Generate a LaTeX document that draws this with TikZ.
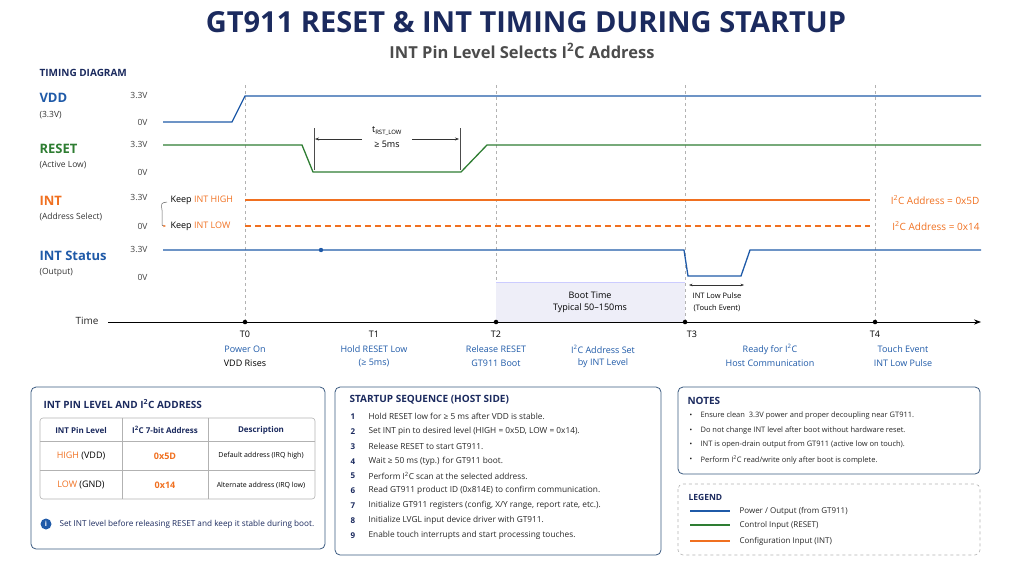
\documentclass[tikz,border=0pt]{standalone}
\usepackage{fontspec}
\setmainfont{Open Sans}
\usetikzlibrary{arrows.meta}
\definecolor{navy}{HTML}{1B2A5E}
\definecolor{sblue}{HTML}{1F5AA8}
\definecolor{sgreen}{HTML}{2E7D32}
\definecolor{sorange}{HTML}{F07020}
\definecolor{boxb}{HTML}{3A5A80}
\definecolor{lav}{HTML}{EEEEF8}
\begin{document}
\begin{tikzpicture}[x=1pt,y=-1pt,
  sig/.style={line width=1.3pt},
  vl/.style={font=\fontsize{8.5}{9}\selectfont,anchor=east,text=black!75},
  lbl/.style={font=\bfseries\fontsize{13}{14}\selectfont,anchor=west},
  sub/.style={font=\fontsize{8.5}{9}\selectfont,anchor=west,text=black!80},
  vd/.style={gray!60,dashed,line width=0.6pt},
  tl/.style={font=\fontsize{9}{10}\selectfont},
  tb/.style={tl,text=sblue},
  box/.style={draw=boxb,rounded corners=5pt,line width=0.8pt},
  bt/.style={font=\bfseries\fontsize{10}{11}\selectfont,text=navy,anchor=west},
  it/.style={font=\fontsize{8}{9}\selectfont,anchor=west,text=black!85},
  dotn/.style={circle,fill=black,inner sep=1.6pt}]
\useasboundingbox (0,0) rectangle (1024,576);
% titles
\node (title) at (526,22) {\bfseries\fontsize{29}{31}\selectfont\color{navy}GT911 RESET \& INT TIMING DURING STARTUP};
\node (subt) at (522,51) {\bfseries\fontsize{16.5}{18}\selectfont\color{black!70}INT Pin Level Selects I\textsuperscript{2}C Address};
\node[bt,font=\bfseries\fontsize{10}{11}\selectfont] (td) at (36,73) {TIMING DIAGRAM};
% labels
\node[lbl,text=sblue] (lvdd) at (36,98) {VDD};
\node[sub] (lvdd2) at (36,115) {(3.3V)};
\node[lbl,text=sgreen] (lrst) at (36,149) {RESET};
\node[sub] (lrst2) at (36,165) {(Active Low)};
\node[lbl,text=sorange] (lint) at (36,201) {INT};
\node[sub] (lint2) at (36,217) {(Address Select)};
\node[lbl,text=sblue] (lis) at (36,256) {INT Status};
\node[sub] (lis2) at (36,272) {(Output)};
\foreach \y/\t [count=\i] in {95/3.3V,122/0V,144/3.3V,172/0V,197/3.3V,226/0V,249/3.3V,277/0V}
  \node[vl] (v\i) at (151,\y) {\t};
% dashed verticals
\foreach \x/\n in {245/a,496/b,685/c,875/d}
  \draw[vd] (\x,85) -- (\x,320);
% boot box
\fill[lav] (496,282) rectangle (685,322);
\draw[blue!20,line width=0.8pt] (496,282) -- (685,282);
\node[tl] (boot1) at (590,295) {Boot Time};
\node[tl] (boot2) at (590,308) {Typical 50–150ms};
% waveforms
\draw[sig,sblue] (163,122) -- (232,122) -- (245,96) -- (981,96);
\draw[sig,sgreen] (163,145) -- (302,145) -- (313,172) -- (461,172) -- (487,145) -- (981,145);
\draw[sig,sorange] (245,200) -- (870,200);
\draw[sig,sorange,dash pattern=on 6pt off 4pt] (245,226) -- (870,226);
\draw[sig,sblue] (163,250) -- (684,250) -- (688,276) -- (741,276) -- (750,250) -- (981,250);
\fill[sblue] (321,250) circle (2.2pt);
\node[font=\fontsize{10}{11}\selectfont,text=sorange,anchor=east] (a5d) at (983,200) {I\textsuperscript{2}C Address = 0x5D};
\node[font=\fontsize{10}{11}\selectfont,text=sorange,anchor=east] (a14) at (983,226) {I\textsuperscript{2}C Address = 0x14};
\node[font=\fontsize{9}{10}\selectfont,anchor=west] (kh) at (167,200) {Keep \textcolor{sorange}{INT HIGH}};
\node[font=\fontsize{9}{10}\selectfont,anchor=west] (kl) at (167,226) {Keep \textcolor{sorange}{INT LOW}};
\draw[black!60,line width=0.5pt,-{Stealth[length=3pt,sorange]}] (167,202) .. controls (161,203) .. (162,210) -- (162,222) .. controls (162,226) .. (166,226);
% tRST
\draw[black!70,line width=0.5pt] (314,128) -- (314,170) (460,128) -- (460,170);
\draw[black!80,line width=0.5pt,-{Stealth[length=4pt]}] (362,139) -- (315,139);
\draw[black!80,line width=0.5pt,-{Stealth[length=4pt]}] (412,139) -- (459,139);
\node[font=\fontsize{9}{10}\selectfont] (trst) at (387,131) {t\textsubscript{RST\_LOW}};
\node[font=\fontsize{9}{10}\selectfont] (t5) at (387,144) {≥ 5ms};
% INT low pulse
\draw[black!80,line width=0.5pt,{Stealth[length=3.5pt]}-{Stealth[length=3.5pt]}] (689,285) -- (744,285);
\node[font=\fontsize{7.5}{8}\selectfont] (ilp1) at (717,296) {INT Low Pulse};
\node[font=\fontsize{7.5}{8}\selectfont] (ilp2) at (717,308) {(Touch Event)};
% time axis
\node[font=\fontsize{10}{11}\selectfont,text=black!85] (time) at (87,321) {Time};
\coordinate (ax0) at (108,322);
\coordinate (ax1) at (981,322);
\draw[line width=1pt,-{Stealth[length=7pt]}] (ax0) -- (ax1);
\foreach \x/\n in {245/0,496/2,685/3,875/4} \node[dotn] (d\n) at (\x,322) {};
\node[tl] (T0) at (245,334) {T0};
\node[tl] (T1) at (374,334) {T1};
\node[tl] (T2) at (496,334) {T2};
\node[tl] (T3) at (692,334) {T3};
\node[tl] (T4) at (875,334) {T4};
\node[tb] (e0a) at (245,349) {Power On};
\node[tl] (e0b) at (245,363) {VDD Rises};
\node[tb] (e1a) at (374,349) {Hold RESET Low};
\node[tb] (e1b) at (374,363) {(≥ 5ms)};
\node[tb] (e2a) at (496,349) {Release RESET};
\node[tb] (e2b) at (496,363) {GT911 Boot};
\node[tb] (e3a) at (603,349) {I\textsuperscript{2}C Address Set};
\node[tb] (e3b) at (603,363) {by INT Level};
\node[tb] (e4a) at (770,349) {Ready for I\textsuperscript{2}C};
\node[tb] (e4b) at (770,363) {Host Communication};
\node[tb] (e5a) at (903,349) {Touch Event};
\node[tb] (e5b) at (903,363) {INT Low Pulse};
% box 1
\draw[box] (31,387) rectangle (325,549);
\node[bt] (b1t) at (40,404) {INT PIN LEVEL AND I\textsuperscript{2}C ADDRESS};
\draw[black!30,rounded corners=3pt,line width=0.6pt] (40,418) rectangle (315,499);
\draw[black!30,line width=0.6pt] (40,441) -- (315,441) (40,470) -- (315,470) (122,418) -- (122,499) (208,418) -- (208,499);
\node[font=\bfseries\fontsize{8}{9}\selectfont,text=navy] (h1) at (81,430) {INT Pin Level};
\node[font=\bfseries\fontsize{8}{9}\selectfont,text=navy] (h2) at (165,430) {I\textsuperscript{2}C 7-bit Address};
\node[font=\bfseries\fontsize{8}{9}\selectfont,text=navy] (h3) at (261,430) {Description};
\node[font=\fontsize{9}{10}\selectfont] (r1a) at (81,456) {\textcolor{sorange}{HIGH} (VDD)};
\node[font=\bfseries\fontsize{9}{10}\selectfont,text=sorange] (r1b) at (165,456) {0x5D};
\node[font=\fontsize{7}{8}\selectfont] (r1c) at (261,456) {Default address (IRQ high)};
\node[font=\fontsize{9}{10}\selectfont] (r2a) at (81,485) {\textcolor{sorange}{LOW} (GND)};
\node[font=\bfseries\fontsize{9}{10}\selectfont,text=sorange] (r2b) at (165,485) {0x14};
\node[font=\fontsize{7}{8}\selectfont] (r2c) at (261,485) {Alternate address (IRQ low)};
\node[circle,fill=sblue,text=white,inner sep=0pt,minimum size=11pt,font=\bfseries\fontsize{7}{8}\selectfont] (info) at (46,524) {i};
\node[it,text=navy,font=\fontsize{8.2}{9}\selectfont] (infot) at (56,524) {Set INT level before releasing RESET and keep it stable during boot.};
% box 2
\draw[box] (335,387) rectangle (661,555);
\node[bt] (b2t) at (346,400) {STARTUP SEQUENCE (HOST SIDE)};
\foreach \t [count=\i] in {Hold RESET low for ≥ 5 ms after VDD is stable.,
  Set INT pin to desired level (HIGH = 0x5D{,} LOW = 0x14).,
  Release RESET to start GT911.,
  Wait ≥ 50 ms (typ.) for GT911 boot.,
  Perform I\textsuperscript{2}C scan at the selected address.,
  Read GT911 product ID (0x814E) to confirm communication.,
  Initialize GT911 registers (config{,} X/Y range{,} report rate{,} etc.).,
  Initialize LVGL input device driver with GT911.,
  Enable touch interrupts and start processing touches.}{
  \node[font=\bfseries\fontsize{8}{9}\selectfont,text=navy] (n\i) at (353,{402+14.8*\i}) {\i};
  \node[it,font=\fontsize{8.3}{9}\selectfont] (s\i) at (365,{402+14.8*\i}) {\t};
}
% box 3
\draw[box] (678,387) rectangle (980,474);
\node[bt] (b3t) at (684,401) {NOTES};
\foreach \t [count=\i] in {Ensure clean\ \ 3.3V power and proper decoupling near GT911.,
  Do not change INT level after boot without hardware reset.,
  INT is open-drain output from GT911 (active low on touch).,
  Perform I\textsuperscript{2}C read/write only after boot is complete.}{
  \node[font=\fontsize{7}{8}\selectfont] (bu\i) at (691,{401.5+14.5*\i}) {•};
  \node[it,font=\fontsize{7.5}{8.5}\selectfont] (no\i) at (697,{401.5+14.5*\i}) {\t};
}
% legend
\draw[black!30,dashed,rounded corners=5pt,line width=0.6pt] (678,484) rectangle (980,555);
\node[bt,font=\bfseries\fontsize{8.5}{9}\selectfont] (lgt) at (685,497) {LEGEND};
\draw[sig,sblue] (690,511) -- (730,511);
\draw[sig,sgreen] (690,525) -- (730,525);
\draw[sig,sorange] (690,541) -- (730,541);
\node[it] (lg1) at (736,511) {Power / Output (from GT911)};
\node[it] (lg2) at (736,525) {Control Input (RESET)};
\node[it] (lg3) at (736,541) {Configuration Input (INT)};
\end{tikzpicture}
\end{document}
